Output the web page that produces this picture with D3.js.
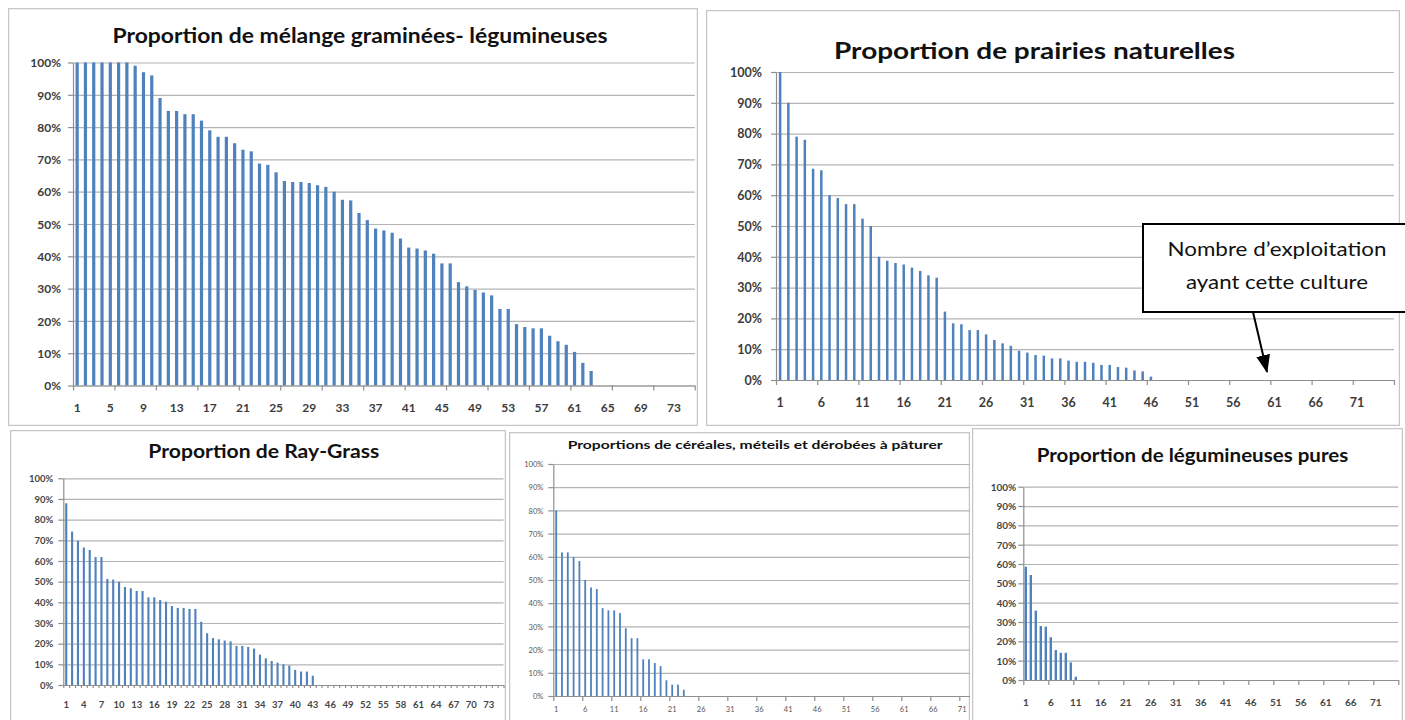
<!DOCTYPE html>
<html>
<head>
<meta charset="utf-8">
<script src="https://cdn.jsdelivr.net/npm/d3@7/dist/d3.min.js"></script>
<style>
body { margin: 0; background: #fff; }
svg { display: block; font-family: Lato, "Open Sans", sans-serif; }
.grid line { stroke: #b4b4b4; stroke-width: 1.2; }
.grid path { display: none; }
.axis path, .axis line { stroke: #8f8f8f; stroke-width: 1.2; }
.title { font-weight: bold; fill: #111; }
</style>
</head>
<body>
<svg id="chart" width="1405" height="720"></svg>
<script>

// valeurs (part de la surface, exploitations triees)
let melangeGL = [100,100,100,100,100,100,100,99,97,96,89,85,85,84,84,82,79,77,77,75,
  73,72.5,68.7,68.3,66,63.3,63,63,62.7,62,61.5,60,57.5,57.3,53.4,51.2,48.6,48,47.3,45.5,
  42.7,42.4,41.8,40.8,37.8,37.8,32,30.7,29.6,28.8,27.9,23.7,23.7,19,18.1,17.7,17.7,15.4,
  13.7,12.6,10.4,7,4.5];

let prairiesNat = [100,90,79,78,68.6,68.1,60,59.1,57.1,57.1,52.4,50,40,38.7,38,37.5,36.5,
  35.4,34,33.2,22.2,18.4,18.1,16.2,16.2,14.8,13,11.9,11.1,9.5,8.9,8.1,7.9,7,7,6.3,5.9,5.9,
  5.6,4.9,4.9,4.2,4,3.1,2.8,1.1];

let rayGrass = [87.9,74.2,69.8,66.5,65.3,61.9,61.9,51.3,51,50,47.4,46.8,45.5,45.5,42.4,42.4,
  41.1,40.3,38.2,37.3,37.3,36.8,36.8,30.6,25,22.7,22.1,21.5,21.1,18.9,18.9,18.4,17.6,14.7,
  12.9,11.6,10.8,10,9.4,7.3,6.5,6.5,4.5];

let cerealesMeteils = [80,61.9,61.9,59.9,58.2,50,46.8,46.1,37.9,36.9,36.9,35.8,29.2,24.9,
  24.9,15.8,15.8,14.2,12.9,6.8,4.9,4.9,2.7];

let legumPures = [58.6,54.3,35.9,27.9,27.6,22.1,15.5,14.1,14.1,9.1,1.7];

// categories : numero d'exploitation
let exploitations = d3.range(1, 76);

let yTicks = [0, 0.1, 0.2, 0.3, 0.4, 0.5, 0.6, 0.7, 0.8, 0.9, 1];

let labelsBy4 = [1,5,9,13,17,21,25,29,33,37,41,45,49,53,57,61,65,69,73];
let labelsBy5 = [1,6,11,16,21,26,31,36,41,46,51,56,61,66,71];
let labelsBy3 = [1,4,7,10,13,16,19,22,25,28,31,34,37,40,43,46,49,52,55,58,61,64,67,70,73];

let titles = [
  "Proportion de mélange graminées- légumineuses",
  "Proportion de prairies naturelles",
  "Proportion de Ray-Grass",
  "Proportions de céréales, méteils et dérobées à pâturer",
  "Proportion de légumineuses pures"
];

let noteLines = ["Nombre d’exploitation", "ayant cette culture"];

// mise en page des 5 graphiques
let panels = [
  { data: melangeGL, title: titles[0], labels: labelsBy4, tickEvery: 5,
    box: [8, 8, 690, 418], x0: 73, w: 8.29, yTop: 62.5, yBot: 385.5,
    tX: 112.5, tY: 43, tSize: 20, tLen: 495,
    lblSize: 12, lblW: "bold", lblFill: "#3c3c3c", yPad: 12, xLblY: 412, bar: 3.2 },
  { data: prairiesNat, title: titles[1], labels: labelsBy5, tickEvery: 5,
    box: [706, 10, 694, 416], x0: 776, w: 8.24, yTop: 72, yBot: 380,
    tX: 834, tY: 59, tSize: 22, tLen: 401,
    lblSize: 12.5, lblW: "bold", lblFill: "#3c3c3c", yPad: 14, xLblY: 407, bar: 2.5 },
  { data: rayGrass, title: titles[2], labels: labelsBy3, tickEvery: 1,
    box: [10, 430, 496, 300], x0: 63.3, w: 5.87, yTop: 478.3, yBot: 685,
    tX: 148.3, tY: 458, tSize: 18, tLen: 231,
    lblSize: 9.5, lblW: "bold", lblFill: "#454545", yPad: 10, xLblY: 708, bar: 2.1 },
  { data: cerealesMeteils, title: titles[3], labels: labelsBy5, tickEvery: 5,
    box: [509, 432, 461, 300], x0: 553.3, w: 5.8, yTop: 464, yBot: 696,
    tX: 567.7, tY: 449, tSize: 12, tLen: 375,
    lblSize: 7.5, lblW: "normal", lblFill: "#555", yPad: 10, xLblY: 712, bar: 1.8 },
  { data: legumPures, title: titles[4], labels: labelsBy5, tickEvery: 5,
    box: [972, 428, 431, 300], x0: 1023.3, w: 5, yTop: 486.7, yBot: 680,
    tX: 1036.7, tY: 462, tSize: 19, tLen: 311.6,
    lblSize: 10, lblW: "bold", lblFill: "#454545", yPad: 7, xLblY: 706, bar: 2.4 }
];

let svg = d3.select("#chart");
let defs = svg.append("defs");

panels.forEach(function(p, i) {

  defs.append("clipPath").attr("id", "clip" + i)
    .append("rect")
    .attr("x", p.box[0]).attr("y", p.box[1])
    .attr("width", p.box[2]).attr("height", p.box[3]);

  let g = svg.append("g").attr("clip-path", "url(#clip" + i + ")");

  let xEnd = p.x0 + exploitations.length * p.w;
  let padIn = 1 - p.bar / p.w;

  let x = d3.scaleBand()
    .domain(exploitations)
    .range([p.x0, xEnd])
    .paddingInner(padIn)
    .paddingOuter(padIn / 2);

  // limites des categories pour les graduations
  let xEdge = d3.scaleLinear()
    .domain([0, exploitations.length])
    .range([p.x0, xEnd]);

  let y = d3.scaleLinear().domain([0, 1]).range([p.yBot, p.yTop]);

  // cadre
  g.append("rect")
    .attr("x", p.box[0] + 0.5).attr("y", p.box[1] + 0.5)
    .attr("width", p.box[2] - 1).attr("height", p.box[3] - 1)
    .attr("fill", "#fff")
    .attr("stroke", "#c6c6c6")
    .attr("stroke-width", 1.5);

  // titre
  g.append("text")
    .classed("title", true)
    .attr("x", p.tX).attr("y", p.tY)
    .attr("font-size", p.tSize)
    .attr("textLength", p.tLen)
    .attr("lengthAdjust", "spacingAndGlyphs")
    .text(p.title);

  // quadrillage horizontal
  g.append("g")
    .classed("grid", true)
    .attr("transform", "translate(" + p.x0 + ",0)")
    .call(d3.axisLeft(y).tickValues(yTicks).tickSize(-(xEnd - p.x0)).tickFormat(""));

  // axe vertical
  let yAx = g.append("g")
    .classed("axis", true)
    .attr("transform", "translate(" + p.x0 + ",0)")
    .call(d3.axisLeft(y).tickValues(yTicks).tickSize(5).tickSizeOuter(0)
      .tickPadding(p.yPad - 5).tickFormat(d3.format(".0%")));

  // barres
  g.append("g")
    .selectAll("rect")
    .data(p.data)
    .enter()
    .append("rect")
    .attr("x", function(d, k) { return x(exploitations[k]); })
    .attr("y", function(d) { return y(d / 100); })
    .attr("width", x.bandwidth())
    .attr("height", function(d) { return p.yBot - y(d / 100); })
    .attr("fill", "#4f81bd");

  // axe horizontal : graduations aux limites
  let edges = d3.range(0, exploitations.length + 1, p.tickEvery);
  g.append("g")
    .classed("axis", true)
    .attr("transform", "translate(0," + p.yBot + ")")
    .call(d3.axisBottom(xEdge).tickValues(edges).tickSize(p.tickEvery === 1 ? 3 : 5)
      .tickSizeOuter(0).tickFormat(""));

  // etiquettes des categories
  let xAx = g.append("g")
    .attr("transform", "translate(0," + p.yBot + ")")
    .call(d3.axisBottom(x).tickValues(p.labels).tickSize(0).tickPadding(0));
  xAx.select(".domain").remove();
  xAx.selectAll("text")
    .attr("y", 0)
    .attr("dy", 0)
    .attr("transform", "translate(0," + (p.xLblY - p.yBot) + ")");

  [yAx, xAx].forEach(function(a) {
    a.attr("font-family", null).attr("font-size", null);
    a.selectAll("text")
      .attr("fill", p.lblFill)
      .style("font-size", p.lblSize + "px")
      .style("font-weight", p.lblW);
  });
  yAx.selectAll("text").attr("dy", "0.35em");
});

// encadre de l'annotation
let note = svg.append("g");

defs.append("marker")
  .attr("id", "head")
  .attr("markerUnits", "userSpaceOnUse")
  .attr("viewBox", "0 0 18 14")
  .attr("refX", 17).attr("refY", 7)
  .attr("markerWidth", 18).attr("markerHeight", 14)
  .attr("orient", "auto")
  .append("path")
  .attr("d", "M0,0 L18,7 L0,14 Z")
  .attr("fill", "#000");

note.append("line")
  .attr("x1", 1253).attr("y1", 312)
  .attr("x2", 1267).attr("y2", 372)
  .attr("stroke", "#000")
  .attr("stroke-width", 2)
  .attr("marker-end", "url(#head)");

note.append("rect")
  .attr("x", 1143).attr("y", 224)
  .attr("width", 275).attr("height", 88)
  .attr("fill", "#fff")
  .attr("stroke", "#000")
  .attr("stroke-width", 2);

note.selectAll("text")
  .data(noteLines)
  .enter()
  .append("text")
  .attr("x", 1277)
  .attr("y", function(d, k) { return 256 + k * 33; })
  .attr("text-anchor", "middle")
  .attr("font-size", 20)
  .attr("fill", "#111")
  .attr("textLength", function(d, k) { return k === 0 ? 219 : 182; })
  .attr("lengthAdjust", "spacingAndGlyphs")
  .text(function(d) { return d; });

</script>
</body>
</html>
